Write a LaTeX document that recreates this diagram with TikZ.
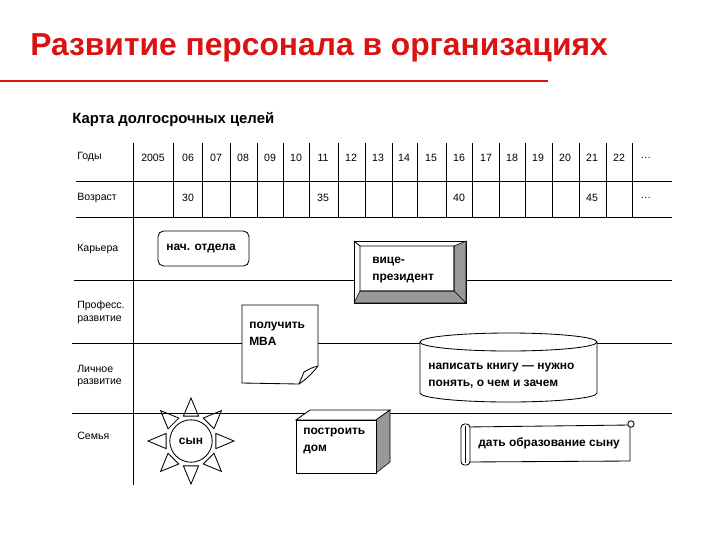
\documentclass[tikz,border=0pt]{standalone}
\usepackage{fontspec}
\setmainfont{Liberation Sans}
\usepackage{xcolor}
\usepackage{tikz}
\definecolor{titlered}{RGB}{218,18,18}

\begin{document}
\begin{tikzpicture}[x=0.025cm,y=-0.025cm,
    lbl/.style={font=\fontsize{7.5}{9}\selectfont,anchor=west,align=left,inner sep=0pt},
    yr/.style={font=\fontsize{7.5}{9}\selectfont,inner sep=0pt},
    goal/.style={font=\fontsize{8.5}{12}\selectfont\bfseries,align=left,inner sep=0pt,anchor=west},
    shade/.style={fill=black!40,draw=black},
    row/.style={line width=0.6pt}]
\useasboundingbox (0,0) rectangle (720,540);
% 标题
\node[anchor=base west,text=titlered,font=\fontsize{22.6}{26}\selectfont\bfseries,inner sep=0pt] (title) at (30,55) {Развитие персонала в организациях};
\draw[titlered,line width=1.6pt] (0,81) -- (548,81);
\node[anchor=base west,font=\fontsize{10.6}{13}\selectfont\bfseries,inner sep=0pt] (map) at (72,123) {Карта долгосрочных целей};
% 左侧栏
\node[lbl] (lyear) at (77,157) {Годы};
\node[lbl] (lage) at (77,198) {Возраст};
\node[lbl] (lcar) at (77,249) {Карьера};
\node[lbl] (lprof) at (77,312) {Професс.\\развитие};
\node[lbl] (lpers) at (77,376) {Личное\\развитие};
\node[lbl] (lfam) at (77,436) {Семья};
\draw[row] (133,143) -- (133,485);
% 年份和年龄
\foreach \t/\x [count=\i] in {2005/153,06/188,07/216,08/243,09/270,10/296,11/323,12/351,13/378,14/404,15/431,16/459,17/486,18/512,19/538,20/565,21/592,22/619}
  \node[yr] (yr\i) at (\x,158) {\t};
\node[yr] (yrmore) at (646,158) {\ldots};
\node[yr] (age30) at (188,198) {30};
\node[yr] (age35) at (323,198) {35};
\node[yr] (age40) at (459,198) {40};
\node[yr] (age45) at (592,198) {45};
\node[yr] (agemore) at (646,198) {\ldots};
\foreach \x in {173,202,230,257,283,309,338,365,392,417,446,472,499,525,552,579,606,632}
  \draw[row] (\x,143) -- (\x,217);
% 横线
\draw[row] (76,181) -- (672,181);
\draw[row] (76,217) -- (672,217);
\draw[row] (74,280) -- (672,280);
\draw[row] (72,343) -- (672,343);
\draw[row] (72,413) -- (672,413);
% 卡片
\draw[row,fill=white,rounded corners=4pt] (158,231) rectangle (249,266);
\node[goal] (head) at (166,248) {нач. отдела};
% 立体框
\draw[row,fill=white] (354,241) rectangle (466,303);
\draw[shade] (454,246) -- (466,241) -- (466,303) -- (454,291) -- cycle;
\draw[shade] (360,291) -- (454,291) -- (466,303) -- (354,303) -- cycle;
\draw[row] (354,241) -- (360,246) rectangle (454,291);
\node[goal] (vice) at (372,270) {вице-\\президент};
% 便条
\draw[row,fill=white] (242,305) -- (318,305) -- (318,366) .. controls (311,375) and (305,380) .. (299,384) -- (242,383) -- cycle;
\draw[row] (318,366) .. controls (311,368) .. (304,372) -- (299,384);
\node[goal] (mba) at (249,334) {получить\\MBA};
% 圆柱
\draw[row,fill=white] (420,342) -- (420,393) arc[start angle=180,end angle=360,x radius=2.2125cm,y radius=0.225cm] -- (597,342);
\draw[row,fill=white] (508.5,342) ellipse [x radius=2.2125cm,y radius=0.225cm];
\node[goal] (book) at (428,376) {написать книгу --- нужно\\понять, о чем и зачем};
% 太阳
\draw[row] (191,441) circle [radius=0.53cm];
\foreach \a in {0,45,...,315}
  \draw[row] ([shift={(191,441)}]\a:43) -- ([shift={(191,441)}]\a+17:26) -- ([shift={(191,441)}]\a-17:26) -- cycle;
\node[font=\fontsize{8.5}{12}\selectfont\bfseries,inner sep=0pt] (son) at (191,441) {сын};
% 立方体
\draw[row,fill=white] (296,420) -- (310,410) -- (390,410) -- (376,420) -- cycle;
\draw[shade] (376,420) -- (390,410) -- (390,462) -- (376,473) -- cycle;
\draw[row,fill=white] (296,420) rectangle (376,473);
\node[goal] (house) at (303,441) {построить\\дом};
% 卷轴
\draw[row,fill=white] (466,427) -- (630,425) -- (630,461) -- (466,462) -- cycle;
\draw[row,fill=white,rounded corners=2.5pt] (461,424) rectangle (470,465);
\draw[row] (465,426) -- (465,463);
\draw[row,fill=white] (631,424) circle [radius=0.08cm];
\node[goal] (edu) at (478,443) {дать образование сыну};
\end{tikzpicture}
\end{document}
